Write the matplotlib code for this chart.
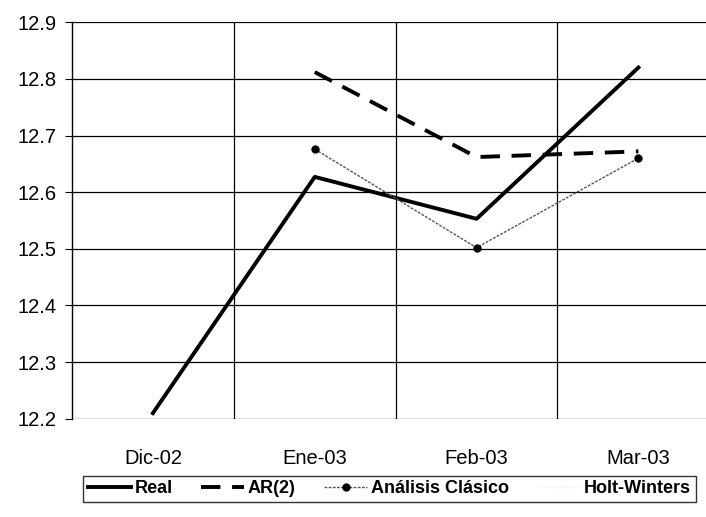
import matplotlib
import matplotlib.pyplot as plt

matplotlib.use('Agg')

plt.rcParams['font.family'] = ['Liberation Sans', 'DejaVu Sans']

meses = ["Dic-02", "Ene-03", "Feb-03", "Mar-03"]
real = [12.21, 12.627, 12.553, 12.82]
ar2 = [None, 12.812, 12.662, 12.672]
clasico = [None, 12.676, 12.502, 12.66]

fig = plt.figure(figsize=(7.06, 5.17), dpi=100)
ax = fig.add_axes([0.102, 0.19, 0.91, 0.767])

x = list(range(len(meses)))
ax.plot(x, real, color='black', lw=2.8, label='Real')
ax.plot(x[1:], ar2[1:], color='black', lw=2.8, ls=(0, (5, 3)), label='AR(2)')
ax.plot(x[1:], clasico[1:], color='#555555', lw=1.0, ls=(0, (2, 1)),
        marker='o', ms=5, mfc='black', mec='black', label='Análisis Clásico')
# Holt-Winters no se ve en la imagen, solo en la leyenda
ax.plot([], [], color='#eeeeee', lw=1, ls=':', label='Holt-Winters')

ax.set_xlim(-0.5, 3.47)
ax.set_ylim(12.2, 12.9)
ax.set_yticks([12.2, 12.3, 12.4, 12.5, 12.6, 12.7, 12.8, 12.9])
ax.set_yticklabels(['12.2', '12.3', '12.4', '12.5', '12.6', '12.7', '12.8', '12.9'])
ax.set_xticks(x)
ax.set_xticklabels(meses)
ax.set_xticks([0.5, 1.5, 2.5], minor=True)

ax.grid(True, axis='y', color='black', lw=0.9)
ax.grid(True, axis='x', which='minor', color='black', lw=0.9)
ax.tick_params(axis='y', labelsize=14.5, length=5, width=0.8, pad=6)
ax.tick_params(axis='x', which='both', length=0, labelsize=14.5, pad=22)

for s in ['top', 'right', 'bottom']:
    ax.spines[s].set_visible(False)
ax.spines['left'].set_linewidth(1.0)

leg = fig.legend(loc='lower left', bbox_to_anchor=(0.105, 0.012, 0.893, 0.06),
                 mode='expand', ncol=4, frameon=True, fancybox=False,
                 handlelength=2.4, handletextpad=0.2, columnspacing=0.6,
                 borderpad=0.25, prop={'size': 13, 'weight': 'bold'})
leg.get_frame().set_edgecolor('black')
leg.get_frame().set_linewidth(1.0)

plt.savefig("out.png", dpi=100)
plt.close()
